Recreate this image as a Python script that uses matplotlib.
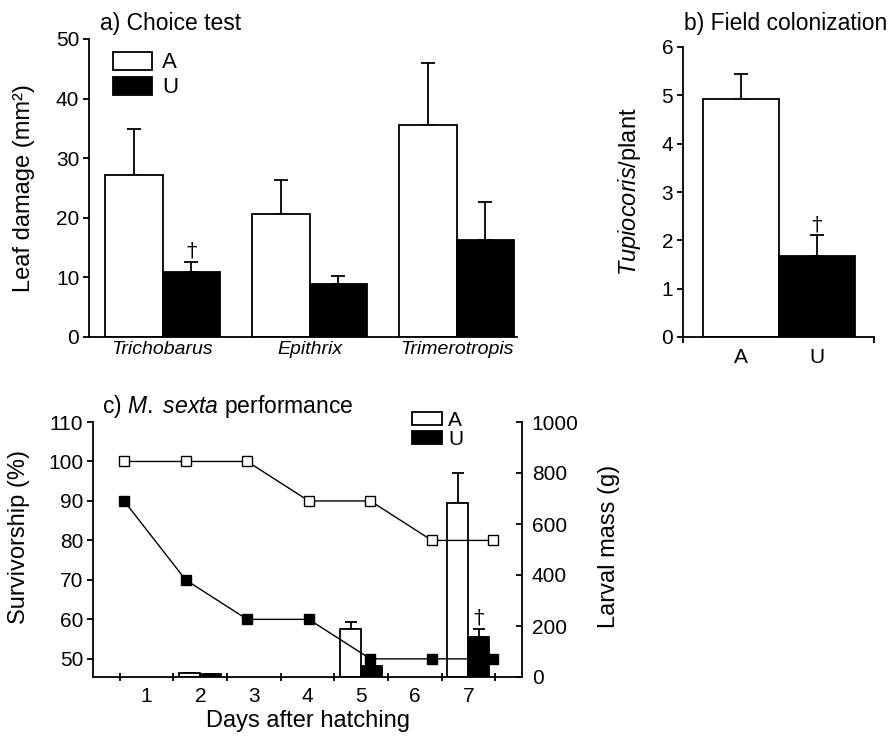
import matplotlib
matplotlib.use("Agg")
import matplotlib.pyplot as plt
from matplotlib.patches import Patch
import numpy as np

plt.rcParams['font.family'] = ['Liberation Sans', 'DejaVu Sans']
plt.rcParams['mathtext.fontset'] = 'custom'
plt.rcParams['mathtext.rm'] = 'Liberation Sans'
plt.rcParams['mathtext.it'] = 'Liberation Sans:italic'

# a) choice test
insects = ["Trichobarus", "Epithrix", "Trimerotropis"]
damage_a = [27.2, 20.7, 35.6]
damage_a_err = [7.7, 5.6, 10.4]
damage_u = [10.9, 8.9, 16.2]
damage_u_err = [1.7, 1.4, 6.4]
damage_u_sig = [True, False, False]

# b) field colonization
groups = ["A", "U"]
tupio = [4.93, 1.68]
tupio_err = [0.52, 0.42]
tupio_sig = [False, True]

# c) M. sexta performance
days = [1, 2, 3, 4, 5, 6, 7]
surv_a = [100, 100, 100, 90, 90, 80, 80]
surv_u = [90, 70, 60, 60, 50, 50, 50]
mass_days = [2, 5, 7]
mass_a = [15, 187, 684]
mass_a_err = [2, 28, 116]
mass_u = [13, 43, 156]
mass_u_err = [0, 0, 31]
mass_u_sig = [False, False, True]

W, H = 896, 736
LW = 1.3


def rect(left, top, right, bottom):
    return [left / W, 1 - bottom / H, (right - left) / W, (bottom - top) / H]


def up_bars(ax, x, vals, errs, color, width, capsize):
    ax.bar(x, vals, width, color=color, edgecolor="black", linewidth=LW, zorder=2)
    ax.errorbar(x, vals, yerr=[np.zeros(len(errs)), errs], fmt="none", ecolor="black",
                elinewidth=LW, capsize=capsize, capthick=LW, zorder=1)


def dagger(ax, x, y):
    ax.annotate("\u2020", (x, y), xytext=(0, 1), textcoords="offset points",
                ha="center", va="bottom", fontsize=15, family="DejaVu Serif", zorder=5)


def style(ax):
    for s in ax.spines.values():
        s.set_linewidth(LW)
    ax.tick_params(width=LW, length=4.5, labelsize=15, pad=2.5)


fig = plt.figure(figsize=(W / 100, H / 100), dpi=100)

# ---- panel a
ax_a = fig.add_axes(rect(89, 39, 517, 337))
style(ax_a)
xa = np.arange(len(insects))
bw = 0.39
up_bars(ax_a, xa - bw / 2, damage_a, damage_a_err, "white", bw, 5)
up_bars(ax_a, xa + bw / 2, damage_u, damage_u_err, "black", bw, 5)
for i, sig in enumerate(damage_u_sig):
    if sig:
        dagger(ax_a, xa[i] + bw / 2, damage_u[i] + damage_u_err[i])
ax_a.set_xlim(-0.5, 2.41)
ax_a.set_ylim(0, 50)
ax_a.set_yticks(range(0, 51, 10))
ax_a.set_xticks(xa)
ax_a.set_xticklabels(insects, style="italic", fontsize=14)
ax_a.tick_params(axis="x", length=0, pad=3)
ax_a.spines[["top", "right"]].set_visible(False)
ax_a.set_ylabel("Leaf damage (mm\u00b2)", fontsize=17)
ax_a.yaxis.set_label_coords(-0.126, 0.5)
ax_a.legend(handles=[Patch(facecolor="white", edgecolor="black", linewidth=LW, label="A"),
                     Patch(facecolor="black", edgecolor="black", linewidth=LW, label="U")],
            loc="upper left", bbox_to_anchor=(0.056, 0.957), frameon=False, fontsize=16,
            handlelength=1.75, handleheight=0.86, handletextpad=0.45, labelspacing=0.15,
            borderpad=0, borderaxespad=0)
fig.text(100 / W, 1 - 30 / H, "a) Choice test", fontsize=16.5, va="baseline")

# ---- panel b
ax_b = fig.add_axes(rect(683, 47, 874, 337))
style(ax_b)
xb = np.arange(len(groups))
ax_b.bar(xb, tupio, 0.99, color=["white", "black"], edgecolor="black", linewidth=LW, zorder=2)
ax_b.errorbar(xb, tupio, yerr=[np.zeros(len(tupio)), tupio_err], fmt="none", ecolor="black",
              elinewidth=LW, capsize=5, capthick=LW, zorder=1)
for i, sig in enumerate(tupio_sig):
    if sig:
        dagger(ax_b, xb[i], tupio[i] + tupio_err[i])
ax_b.set_xlim(-0.76, 1.75)
ax_b.set_ylim(0, 6)
ax_b.set_yticks(range(0, 7))
ax_b.set_xticks(xb)
ax_b.set_xticklabels(groups)
ax_b.tick_params(axis="x", length=0, pad=8)
ax_b.set_xticks([-0.76, 1.75], minor=True)
ax_b.tick_params(axis="x", which="minor", length=4.5, width=LW)
ax_b.spines[["top", "right"]].set_visible(False)
ax_b.set_ylabel(r"$\mathit{Tupiocoris}$/plant", fontsize=17)
ax_b.yaxis.set_label_coords(-0.21, 0.5)
fig.text(684 / W, 1 - 30 / H, "b) Field colonization", fontsize=16.5, va="baseline")

# ---- panel c
rc = rect(93, 422, 522, 677)
ax_m = fig.add_axes(rc)
ax_s = fig.add_axes(rc)
ax_s.patch.set_visible(False)
style(ax_m)
style(ax_s)

md = np.array(mass_days)
up_bars(ax_m, md - bw / 2, mass_a, mass_a_err, "white", bw, 4)
up_bars(ax_m, md + bw / 2, mass_u, mass_u_err, "black", bw, 4)
for i, sig in enumerate(mass_u_sig):
    if sig:
        dagger(ax_m, md[i] + bw / 2, mass_u[i] + mass_u_err[i])
ax_m.set_xlim(0, 8)
ax_m.set_ylim(0, 1000)
ax_m.yaxis.tick_right()
ax_m.yaxis.set_label_position("right")
ax_m.set_yticks(range(0, 1001, 200))
ax_m.tick_params(axis="y", direction="in", pad=7)
ax_m.set_xticks(days)
ax_m.tick_params(axis="x", length=0, pad=7)
ax_m.set_xticks(np.arange(0.5, 8, 1), minor=True)
ax_m.tick_params(axis="x", which="minor", direction="inout", length=6, width=LW)
ax_m.spines[["top", "left"]].set_visible(False)
ax_m.set_ylabel("Larval mass (g)", fontsize=17, rotation=90)
ax_m.yaxis.set_label_coords(1.177, 0.514)
ax_m.set_xlabel("Days after hatching", fontsize=17, labelpad=3)

ax_s.plot(days, surv_a, color="black", linewidth=1.0, marker="s", markersize=7.5,
          markerfacecolor="white", markeredgecolor="black", markeredgewidth=1.0, zorder=3)
ax_s.plot(days, surv_u, color="black", linewidth=1.0, marker="s", markersize=7.5,
          markerfacecolor="black", markeredgecolor="black", markeredgewidth=1.0, zorder=3)
ax_s.set_xlim(0.495, 7.463)
ax_s.set_ylim(45.4, 110)
ax_s.set_yticks(range(50, 111, 10))
ax_s.set_xticks([])
ax_s.spines[["top", "right", "bottom"]].set_visible(False)
ax_s.set_ylabel("Survivorship (%)", fontsize=17)
ax_s.yaxis.set_label_coords(-0.147, 0.55)
ax_s.legend(handles=[Patch(facecolor="white", edgecolor="black", linewidth=LW, label="A"),
                     Patch(facecolor="black", edgecolor="black", linewidth=LW, label="U")],
            loc="upper left", bbox_to_anchor=(0.744, 1.045), frameon=False, fontsize=15,
            handlelength=1.44, handleheight=0.6, handletextpad=0.3, labelspacing=0.0,
            borderpad=0, borderaxespad=0)
fig.text(102 / W, 1 - 413 / H, r"c) $\mathit{M.\ sexta}$ performance", fontsize=16.5,
         va="baseline")

fig.savefig("out.png", dpi=100)
